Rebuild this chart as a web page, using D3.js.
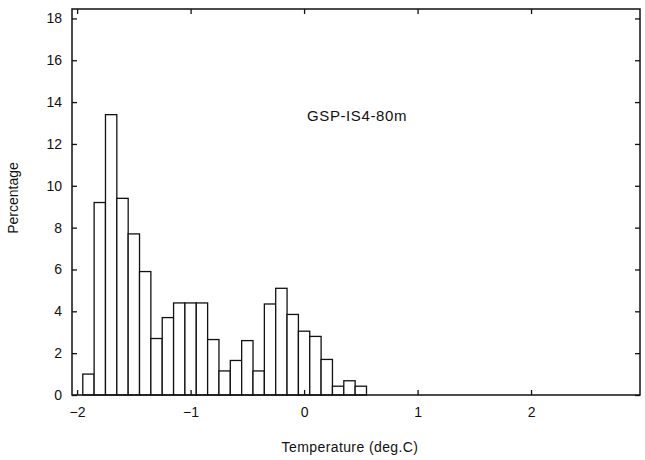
<!DOCTYPE html>
<html>
<head>
<meta charset="utf-8">
<script src="https://cdn.jsdelivr.net/npm/d3@7/dist/d3.min.js"></script>
<style>
  html, body { margin: 0; padding: 0; background: #fff; }
  svg { display: block; }
  text { font-family: "Liberation Sans", "DejaVu Sans", Arial, sans-serif; fill: #111; }
</style>
</head>
<body>
<svg id="chart" width="645" height="460"></svg>
<script>
// ---- data ----
const binCenters = [-1.9, -1.8, -1.7, -1.6, -1.5, -1.4, -1.3, -1.2, -1.1, -1.0,
                    -0.9, -0.8, -0.7, -0.6, -0.5, -0.4, -0.3, -0.2, -0.1, 0.0,
                    0.1, 0.2, 0.3, 0.4, 0.5];
const percentages = [1.0, 9.2, 13.4, 9.4, 7.7, 5.9, 2.7, 3.7, 4.4, 4.4,
                     4.4, 2.65, 1.15, 1.65, 2.6, 1.15, 4.35, 5.1, 3.85, 3.05,
                     2.8, 1.7, 0.42, 0.68, 0.42];
const binWidth = 0.1;
const xTicks = [-2, -1, 0, 1, 2];
const yTicks = [0, 2, 4, 6, 8, 10, 12, 14, 16, 18];
const titleText = "GSP-IS4-80m";
const xLabel = "Temperature (deg.C)";
const yLabel = "Percentage";

// ---- layout ----
const svg = d3.select("#chart");
const mLeft = 72, mRight = 640, mTop = 9, mBottom = 395;

const x = d3.scaleLinear().domain([-2.045, 2.96]).range([mLeft, mRight]);
const y = d3.scaleLinear().domain([0, 18.45]).range([mBottom, mTop]);

const fmt = d => (d < 0 ? "\u2212" + Math.abs(d) : String(d));

// bars
svg.append("g").selectAll("rect")
  .data(binCenters.map((c, i) => ({ c, v: percentages[i] })))
  .join("rect")
  .attr("x", d => x(d.c - binWidth / 2))
  .attr("width", d => x(d.c + binWidth / 2) - x(d.c - binWidth / 2))
  .attr("y", d => y(d.v))
  .attr("height", d => y(0) - y(d.v))
  .attr("fill", "#fff")
  .attr("stroke", "#111")
  .attr("stroke-width", 1.3);

// axes
const axStyle = g => {
  g.select(".domain").remove();
  g.selectAll(".tick line").attr("stroke", "#111").attr("stroke-width", 1.3);
  g.selectAll(".tick text").attr("font-size", 14);
};

svg.append("g").attr("transform", `translate(0,${mBottom})`)
  .call(d3.axisBottom(x).tickValues(xTicks).tickFormat(fmt).tickSizeInner(-5).tickSizeOuter(0).tickPadding(12))
  .call(axStyle);
svg.append("g").attr("transform", `translate(0,${mTop})`)
  .call(d3.axisTop(x).tickValues(xTicks).tickFormat("").tickSizeInner(-5).tickSizeOuter(0))
  .call(axStyle);
svg.append("g").attr("transform", `translate(${mLeft},0)`)
  .call(d3.axisLeft(y).tickValues(yTicks).tickFormat(fmt).tickSizeInner(-5).tickSizeOuter(0).tickPadding(10))
  .call(axStyle);
svg.append("g").attr("transform", `translate(${mRight},0)`)
  .call(d3.axisRight(y).tickValues(yTicks).tickFormat("").tickSizeInner(-5).tickSizeOuter(0))
  .call(axStyle);

// frame
svg.append("rect")
  .attr("x", mLeft).attr("y", mTop)
  .attr("width", mRight - mLeft).attr("height", mBottom - mTop)
  .attr("fill", "none").attr("stroke", "#111").attr("stroke-width", 1.5);

// texts
svg.append("text")
  .attr("x", 357).attr("y", 121)
  .attr("text-anchor", "middle")
  .attr("font-size", 15)
  .attr("letter-spacing", 0.6)
  .text(titleText);

svg.append("text")
  .attr("x", 350).attr("y", 452)
  .attr("text-anchor", "middle")
  .attr("font-size", 14)
  .attr("letter-spacing", 0.4)
  .text(xLabel);

svg.append("text")
  .attr("transform", "translate(18,198) rotate(-90)")
  .attr("text-anchor", "middle")
  .attr("font-size", 14)
  .text(yLabel);
</script>
</body>
</html>
